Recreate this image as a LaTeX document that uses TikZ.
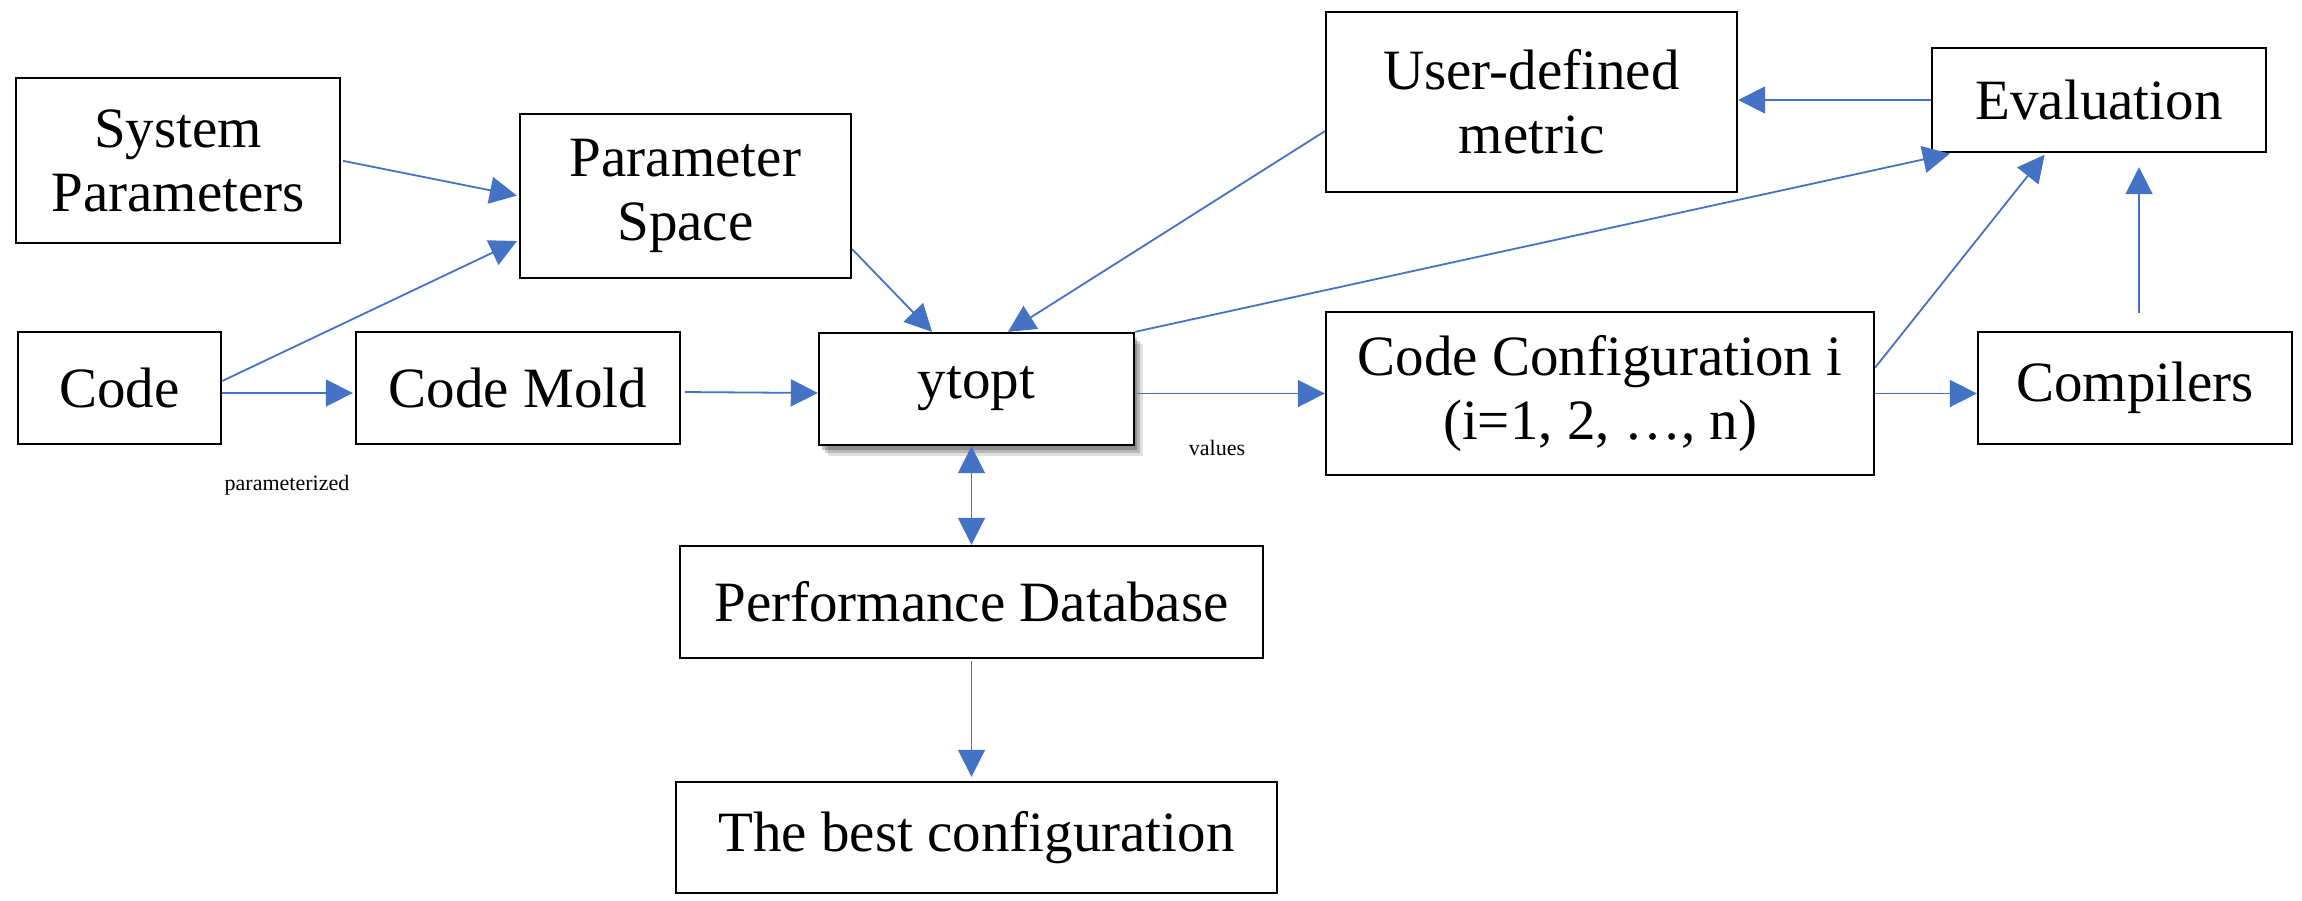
\documentclass[tikz,border=0pt]{standalone}
\usepackage{fontspec}
\setmainfont{Liberation Serif}
\usetikzlibrary{arrows.meta,shadows,calc}
\definecolor{arrowblue}{HTML}{4472C4}
\tikzset{
  box/.style={draw=black, line width=2.4pt, fill=white, align=center,
    font=\fontsize{57}{64}\selectfont, inner sep=0pt},
  conn/.style={draw=arrowblue, line width=1.8pt,
    -{Triangle[length=27pt,width=27pt]}},
  biconn/.style={draw=arrowblue, line width=1.8pt,
    {Triangle[length=27pt,width=27pt]}-{Triangle[length=27pt,width=27pt]}},
  small/.style={font=\fontsize{22}{24}\selectfont, inner sep=0pt},
}
\begin{document}
\begin{tikzpicture}[x=1pt,y=-1pt]
\useasboundingbox[fill=white] (0,0) rectangle (2302,900);
% nodes
\node[box, minimum width=324pt, minimum height=165pt] (sys) at (178,160.5) {System\\Parameters};
\node[box, minimum width=331pt, minimum height=164pt] (ps) at (685.5,196) {Parameter\\Space};
\node[box, minimum width=203pt, minimum height=112pt] (code) at (119.5,388) {Code};
\node[box, minimum width=324pt, minimum height=112pt] (mold) at (518,388) {Code Mold};
\node[box, minimum width=315pt, minimum height=112pt,
  drop shadow={shadow xshift=9pt, shadow yshift=-11pt, fill=black, opacity=0.12},
  drop shadow={shadow xshift=6pt, shadow yshift=-8pt, fill=black, opacity=0.18},
  drop shadow={shadow xshift=3pt, shadow yshift=-5pt, fill=black, opacity=0.22}]
  (ytopt) at (976.5,389) {ytopt};
\node[box, minimum width=583pt, minimum height=112pt] (pdb) at (971.5,602) {Performance Database};
\node[box, minimum width=601pt, minimum height=111pt] (best) at (976.5,837.5) {The best configuration};
\node[box, minimum width=411pt, minimum height=180pt] (udm) at (1531.5,102) {User-defined\\metric};
\node[box, minimum width=334pt, minimum height=104pt] (eval) at (2099,100) {Evaluation};
\node[box, minimum width=548pt, minimum height=163pt] (cc) at (1600,393.5) {Code Configuration i\\(i=1, 2, \dots, n)};
\node[box, minimum width=314pt, minimum height=112pt] (comp) at (2135,388) {Compilers};
% labels
\node[small, fill=white, minimum width=134pt, minimum height=70pt] (values) at (1217,448) {values};
\node[small] (param) at (287,485) {parameterized};
% connectors
\draw[conn, shorten <=2pt, shorten >=2pt] (sys.east) -- (ps.west);
\draw[conn, shorten >=2pt] ([yshift=7pt]code.east) -- ([yshift=39pt]ps.south west);
\draw[conn, shorten >=2pt] ([yshift=-5pt]code.east) -- ([yshift=-5pt]mold.west);
\draw[conn, shorten <=4pt] ([yshift=-4pt]mold.east) -- ([yshift=-4pt]ytopt.west);
\draw[conn] ([yshift=30pt]ps.south east) -- ([xshift=-44.5pt]ytopt.north);
\draw[conn] ([yshift=62pt]udm.south west) -- ([xshift=31.5pt]ytopt.north);
\draw[conn, shorten >=2pt] (ytopt.north east) -- ([xshift=21pt]eval.south west);
\draw[biconn] (pdb.north) -- (pdb.north |- ytopt.south);
\draw[conn, shorten <=2pt] (cc.west -| ytopt.east) -- (cc.west);
\draw[conn] (cc.east) -- (cc.east -| comp.west);
\draw[conn, shorten >=2pt] ([yshift=26pt]cc.east) -- ([xshift=115pt]eval.south west);
\draw[conn, shorten <=18pt, shorten >=14pt] ([xshift=4pt]comp.north) -- ([xshift=4pt]comp.north |- eval.south);
\draw[conn] (eval.west) -- (eval.west -| udm.east);
\draw[conn, shorten <=2pt, shorten >=4pt] (pdb.south) -- (pdb.south |- best.north);
\end{tikzpicture}
\end{document}
